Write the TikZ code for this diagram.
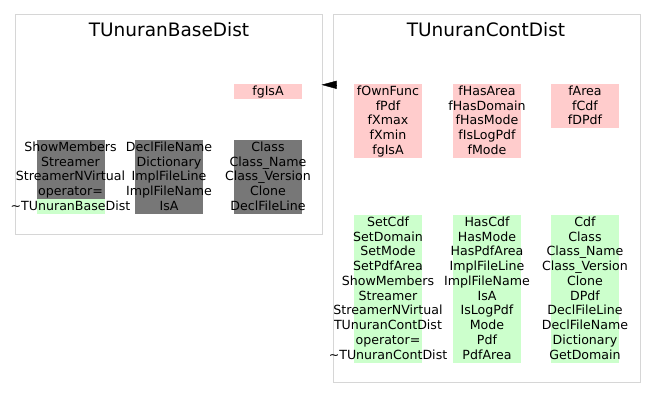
\documentclass[tikz,border=0pt]{standalone}
\usepackage{fontspec}
\setmainfont{DejaVu Sans}
\usetikzlibrary{arrows.meta}
\definecolor{memberpink}{HTML}{FFCCCC}
\definecolor{methodgreen}{HTML}{CCFFCC}
\definecolor{inheritgray}{HTML}{777777}
\definecolor{clusterline}{HTML}{D6D6D6}
\newcommand{\rowh}{14.75}

\begin{document}
\begin{tikzpicture}[
				x=1pt, y=-1pt,
				cluster/.style={draw=clusterline, line width=1pt, rectangle, inner sep=0pt},
				title/.style={anchor=base, font=\fontsize{18.5}{22}\selectfont},
				cell/.style={rectangle, inner sep=0pt, minimum width=68pt, minimum height=\rowh pt,
					text height=10.3pt, text depth=2.5pt, font=\fontsize{12.6}{14.8}\selectfont},
				member/.style={cell, fill=memberpink},
				method/.style={cell, fill=methodgreen},
				inherited/.style={cell, fill=inheritgray},
				inherit/.style={-{Triangle[length=15pt, width=8pt]}, black}]
			
			\useasboundingbox (0,0) rectangle (656,409);
			
			% the two classes
			\node[cluster, minimum width=307.5pt, minimum height=219pt] (basebox) at (168.75,124.5) {};
			\node[cluster, minimum width=307pt, minimum height=367.5pt] (contbox) at (486.5,198.75) {};
			\node[title] (basetitle) at (169,37) {TUnuranBaseDist};
			\node[title] (conttitle) at (486,37) {TUnuranContDist};
			
			% TUnuranBaseDist
			\node[member] (basefgisa) at (268,{84+0.5*\rowh}) {\makebox[0pt]{fgIsA}};
			\foreach \name [count=\i] in {ShowMembers, Streamer, StreamerNVirtual, operator=}
				\node[inherited] (baseA\i) at (70.5,{140+(\i-0.5)*\rowh}) {\makebox[0pt]{\name}};
			\node[method] (baseA5) at (70.5,{140+4.5*\rowh}) {\makebox[0pt]{\textasciitilde TUnuranBaseDist}};
			\foreach \name [count=\i] in {DeclFileName, Dictionary, ImplFileLine, ImplFileName, IsA}
				\node[inherited] (baseB\i) at (169,{140+(\i-0.5)*\rowh}) {\makebox[0pt]{\name}};
			\foreach \name [count=\i] in {Class, Class\_Name, Class\_Version, Clone, DeclFileLine}
				\node[inherited] (baseC\i) at (268,{140+(\i-0.5)*\rowh}) {\makebox[0pt]{\name}};
			
			% TUnuranContDist, data members
			\foreach \name [count=\i] in {fOwnFunc, fPdf, fXmax, fXmin, fgIsA}
				\node[member] (contA\i) at (388,{84+(\i-0.5)*\rowh}) {\makebox[0pt]{\name}};
			\foreach \name [count=\i] in {fHasArea, fHasDomain, fHasMode, fIsLogPdf, fMode}
				\node[member] (contB\i) at (487,{84+(\i-0.5)*\rowh}) {\makebox[0pt]{\name}};
			\foreach \name [count=\i] in {fArea, fCdf, fDPdf}
				\node[member] (contC\i) at (585,{84+(\i-0.5)*\rowh}) {\makebox[0pt]{\name}};
			
			% TUnuranContDist, methods
			\foreach \name [count=\i] in {SetCdf, SetDomain, SetMode, SetPdfArea, ShowMembers, Streamer,
					StreamerNVirtual, TUnuranContDist, operator=, \textasciitilde TUnuranContDist}
				\node[method] (contD\i) at (388,{215+(\i-0.5)*\rowh}) {\makebox[0pt]{\name}};
			\foreach \name [count=\i] in {HasCdf, HasMode, HasPdfArea, ImplFileLine, ImplFileName, IsA,
					IsLogPdf, Mode, Pdf, PdfArea}
				\node[method] (contE\i) at (487,{215+(\i-0.5)*\rowh}) {\makebox[0pt]{\name}};
			\foreach \name [count=\i] in {Cdf, Class, Class\_Name, Class\_Version, Clone, DPdf,
					DeclFileLine, DeclFileName, Dictionary, GetDomain}
				\node[method] (contF\i) at (585,{215+(\i-0.5)*\rowh}) {\makebox[0pt]{\name}};
			
			\draw[inherit] ([xshift=4pt, yshift=-1pt]contbox.west |- contA1.north)
				-- ([xshift=-1.5pt, yshift=-1pt]basebox.east |- contA1.north);
			
		\end{tikzpicture}
\end{document}
